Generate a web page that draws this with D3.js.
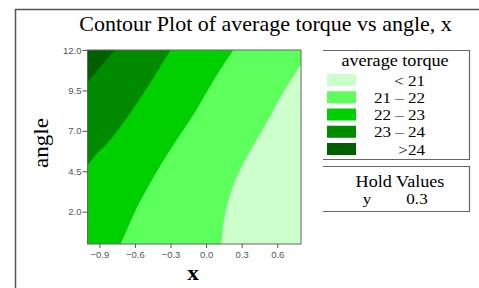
<!DOCTYPE html>
<html>
<head>
<meta charset="utf-8">
<script src="https://cdn.jsdelivr.net/npm/d3@7"></script>
<style>
  body { margin: 0; background: #fff; }
  svg { display: block; }
</style>
</head>
<body>
<div id="chart"></div>
<script>
// Contour levels, legend labels and fill colours (light -> dark)
const levels = [21, 22, 23, 24];
const legendLabels = ["< 21", "21 \u2013 22", "22 \u2013 23", "23 \u2013 24", ">24"];
const bandColors = ["#ccffcc", "#5cff5c", "#00d000", "#008a00", "#006000"];

// Boundary curves, [x, angle]
const edge21 = [[0.13, 0], [0.15, 1.5], [0.20, 3.0], [0.28, 4.5], [0.39, 6.0], [0.51, 7.5], [0.62, 9.0], [0.72, 10.2], [0.80, 11.1]];
const edge22 = [[-0.72, 0], [-0.66, 1.0], [-0.58, 2.3], [-0.43, 4.3], [-0.27, 6.2], [-0.09, 8.2], [0.07, 10.2], [0.23, 12]];
const edge23 = [[-1, 4.85], [-0.92, 5.6], [-0.83, 6.25], [-0.63, 8.2], [-0.45, 10.2], [-0.30, 12]];
const edge24 = [[-1, 10.0], [-0.88, 11.05], [-0.77, 12]];
const edges = [edge21, edge22, edge23, edge24];

const xTicks = [-0.9, -0.6, -0.3, 0.0, 0.3, 0.6];
const yTicks = [2.0, 4.5, 7.0, 9.5, 12.0];
const holdNames = ["y"];
const holdValues = [0.3];

const width = 479, height = 288;
const xDomain = [-1, 0.8], yDomain = [0, 12];
const serif = "'Liberation Serif', 'Times New Roman', serif";

const svg = d3.select("#chart").append("svg")
    .attr("width", width)
    .attr("height", height);

// serif text, a bit wider than normal like the source image
function label(px, py, txt, size, anchor, extra) {
    return svg.append("text")
        .attr("transform", `translate(${px},${py}) ${extra || ""} scale(1.1,1)`)
        .attr("text-anchor", anchor || "middle")
        .style("font-family", serif)
        .style("font-size", size + "px")
        .text(txt);
}

// outer frame (only left and top show in the crop)
svg.append("path")
    .attr("d", `M15.5,${height} L15.5,9.5 L${width},9.5`)
    .attr("fill", "none")
    .attr("stroke", "#555")
    .attr("stroke-width", 1.5);

label(265.5, 31, "Contour Plot of average torque vs angle, x", 20);

const x = d3.scaleLinear().domain(xDomain).range([87.5, 301]);
const y = d3.scaleLinear().domain(yDomain).range([244, 50]);

svg.append("clipPath").attr("id", "plotClip")
  .append("rect")
    .attr("x", x(xDomain[0])).attr("y", y(yDomain[1]))
    .attr("width", x(xDomain[1]) - x(xDomain[0]))
    .attr("height", y(yDomain[0]) - y(yDomain[1]));

const plot = svg.append("g").attr("clip-path", "url(#plotClip)");

// lowest band fills everything
plot.append("rect")
    .attr("x", x(xDomain[0])).attr("y", y(yDomain[1]))
    .attr("width", x(xDomain[1]) - x(xDomain[0]))
    .attr("height", y(yDomain[0]) - y(yDomain[1]))
    .attr("fill", bandColors[0]);

const curve = d3.line().x(d => x(d[0])).y(d => y(d[1])).curve(d3.curveCatmullRom);

// each higher band covers the top-left side of its boundary
edges.forEach((pts, i) => {
    const first = pts[0], last = pts[pts.length - 1];
    const corners = [];
    if (last[0] >= xDomain[1] && last[1] < yDomain[1]) corners.push([xDomain[1], yDomain[1]]);
    corners.push([xDomain[0], yDomain[1]]);
    if (first[1] <= yDomain[0]) corners.push([xDomain[0], yDomain[0]]);
    const d = curve(pts) + corners.map(c => `L${x(c[0])},${y(c[1])}`).join("") + "Z";
    plot.append("path")
        .attr("d", d)
        .attr("fill", bandColors[i + 1]);
});

// plot border
svg.append("rect")
    .attr("x", x(xDomain[0])).attr("y", y(yDomain[1]))
    .attr("width", x(xDomain[1]) - x(xDomain[0]))
    .attr("height", y(yDomain[0]) - y(yDomain[1]))
    .attr("fill", "none")
    .attr("stroke", "#666")
    .attr("stroke-width", 1);

const fmt = d3.format(".1f");

const xAxis = svg.append("g")
    .attr("transform", `translate(0,${y(yDomain[0])})`)
    .call(d3.axisBottom(x).tickValues(xTicks).tickFormat(fmt).tickSize(4).tickPadding(3));

const yAxis = svg.append("g")
    .attr("transform", `translate(${x(xDomain[0])},0)`)
    .call(d3.axisLeft(y).tickValues(yTicks).tickFormat(fmt).tickSize(5).tickPadding(1));

[xAxis, yAxis].forEach(ax => {
    ax.select(".domain").remove();
    ax.selectAll(".tick line").attr("stroke", "#555");
    ax.selectAll(".tick text")
        .attr("fill", "#555")
        .style("font-family", "'Liberation Sans', Arial, sans-serif")
        .style("font-size", "9.5px");
});

label(193, 280, "x", 21).style("font-weight", "bold");
label(48, 143, "angle", 21, "middle", "rotate(-90)");

// legend boxes (top, right and bottom edges drawn)
function box(top, bottom) {
    svg.append("path")
        .attr("d", `M323,${top} L469.5,${top} L469.5,${bottom} L323,${bottom}`)
        .attr("fill", "none")
        .attr("stroke", "#666")
        .attr("stroke-width", 1.2);
}
box(50.5, 159.5);
box(166.5, 211.5);

label(395, 66, "average torque", 16.5);

const rowY = d3.scalePoint().domain(d3.range(legendLabels.length)).range([80, 149]);

legendLabels.forEach((txt, i) => {
    svg.append("rect")
        .attr("x", 327).attr("y", rowY(i) - 6)
        .attr("width", 29).attr("height", 12)
        .attr("fill", bandColors[i]);
    label(425, rowY(i) + 5.5, txt, 15.5, "end");
});

label(400, 187, "Hold Values", 16.5);

holdNames.forEach((n, i) => {
    label(367, 204 + i * 16, n, 15.5);
    label(417, 204 + i * 16, holdValues[i], 15.5);
});
</script>
</body>
</html>
